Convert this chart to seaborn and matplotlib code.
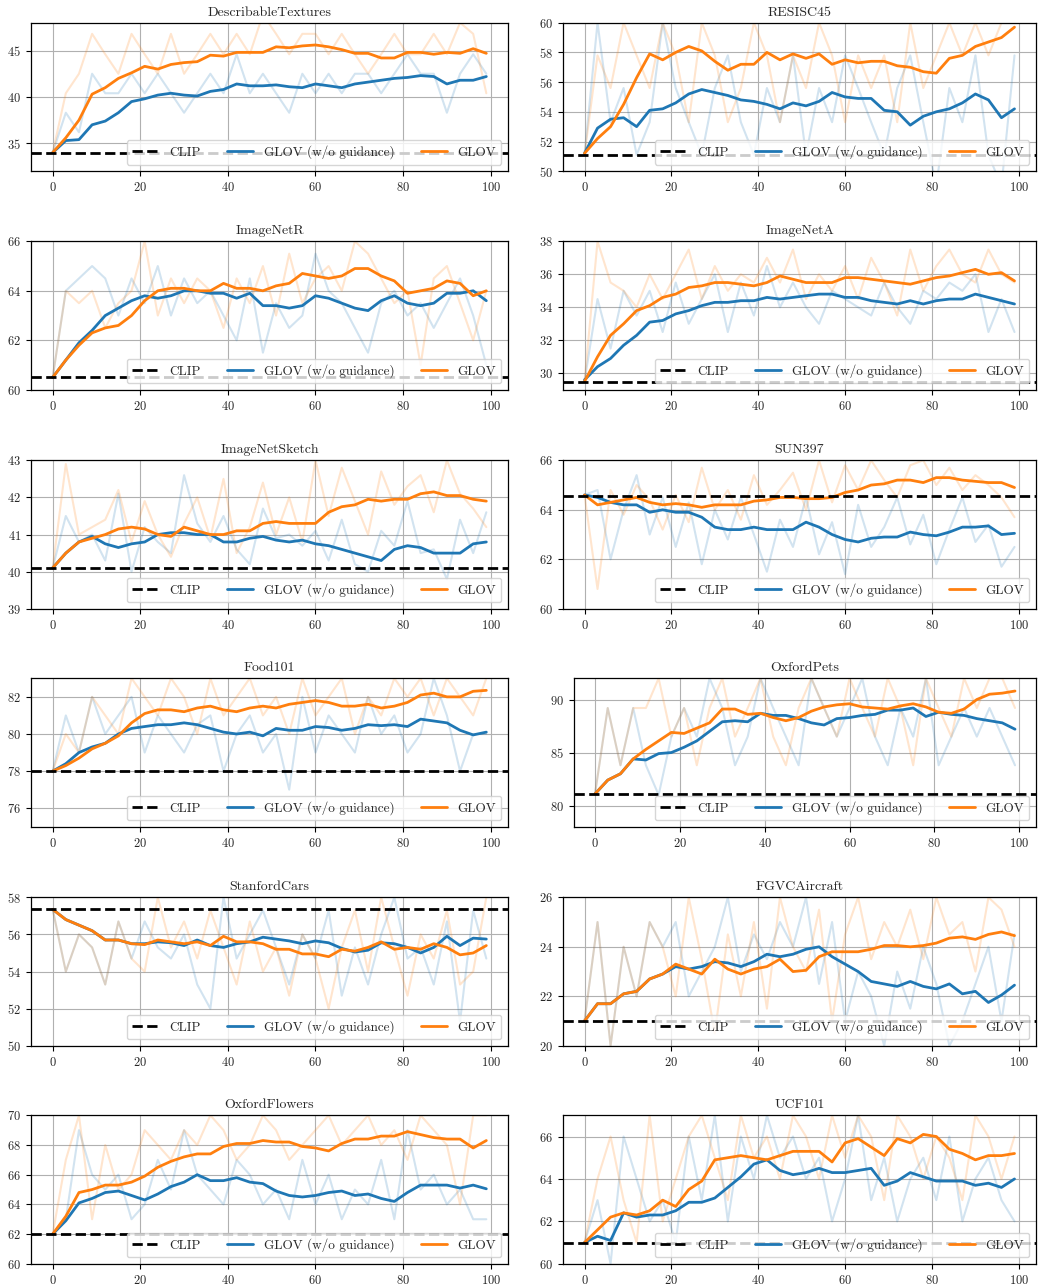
"""GLOV vs. GLOV (w/o guidance) vs. CLIP over optimisation steps, 12 datasets."""

import matplotlib.pyplot as plt
import numpy as np
import seaborn as sns
from matplotlib.lines import Line2D

# optimisation steps sampled every 3 iterations (0 .. 99)
steps = np.arange(0, 100, 3)

names = ["DescribableTextures", "RESISC45", "ImageNetR", "ImageNetA",
         "ImageNetSketch", "SUN397", "Food101", "OxfordPets",
         "StanfordCars", "FGVCAircraft", "OxfordFlowers", "UCF101"]

clip_acc = [34.0, 51.1, 60.5, 29.5, 40.1, 64.56, 78.0, 81.1, 57.35, 21.0, 62.0, 61.0]
ylims = [(32, 48), (50, 60), (60, 66), (29, 38), (39, 43), (60, 66),
         (75, 83), (78, 92), (50, 58), (20, 26), (60, 70), (60, 67)]

# smoothed curves
dtd_base = [34.0, 35.3, 35.4, 37.0, 37.4, 38.3, 39.5, 39.8, 40.2, 40.4, 40.2, 40.1, 40.6, 40.8, 41.4, 41.2, 41.2,
            41.3, 41.1, 41.0, 41.4, 41.2, 41.0, 41.4, 41.6, 41.8, 42.0, 42.1, 42.3, 42.2, 41.4, 41.8, 41.8, 42.2]
dtd_glov = [34.0, 35.6, 37.5, 40.3, 41.0, 42.0, 42.6, 43.3, 43.0, 43.5, 43.7, 43.8, 44.5, 44.4, 44.8, 44.8, 44.8,
            45.4, 45.3, 45.5, 45.6, 45.4, 45.1, 44.7, 44.7, 44.2, 44.2, 44.8, 44.8, 44.6, 44.8, 44.7, 45.2, 44.7]
res_base = [51.2, 52.9, 53.5, 53.6, 53.0, 54.1, 54.2, 54.6, 55.2, 55.5, 55.3, 55.1, 54.8, 54.7, 54.5, 54.2, 54.6,
            54.4, 54.7, 55.3, 55.0, 54.9, 54.9, 54.1, 54.0, 53.1, 53.7, 54.0, 54.2, 54.6, 55.2, 54.8, 53.6, 54.2]
res_glov = [51.2, 52.2, 53.0, 54.5, 56.3, 57.9, 57.5, 58.0, 58.4, 58.1, 57.4, 56.8, 57.2, 57.2, 58.0, 57.5, 57.9,
            57.6, 57.9, 57.2, 57.5, 57.3, 57.4, 57.4, 57.1, 57.0, 56.7, 56.6, 57.6, 57.8, 58.4, 58.7, 59.0, 59.7]
inr_base = [60.5, 61.2, 61.9, 62.4, 63.0, 63.3, 63.6, 63.8, 63.7, 63.8, 64.0, 64.0, 63.9, 63.9, 63.7, 63.9, 63.4,
            63.4, 63.3, 63.4, 63.8, 63.7, 63.5, 63.3, 63.2, 63.6, 63.8, 63.5, 63.4, 63.5, 63.9, 63.9, 64.0, 63.6]
inr_glov = [60.5, 61.2, 61.8, 62.3, 62.5, 62.6, 63.0, 63.6, 64.0, 64.1, 64.1, 64.0, 64.0, 64.3, 64.1, 64.1, 64.0,
            64.2, 64.3, 64.7, 64.6, 64.5, 64.6, 64.9, 64.9, 64.6, 64.4, 63.9, 64.0, 64.1, 64.4, 64.3, 63.8, 64.0]
ina_base = [29.6, 30.4, 30.9, 31.7, 32.3, 33.1, 33.2, 33.6, 33.8, 34.1, 34.3, 34.3, 34.4, 34.4, 34.6, 34.5, 34.6,
            34.7, 34.8, 34.8, 34.6, 34.6, 34.4, 34.3, 34.2, 34.4, 34.2, 34.4, 34.5, 34.5, 34.8, 34.6, 34.4, 34.2]
ina_glov = [29.5, 31.0, 32.3, 33.0, 33.8, 34.1, 34.6, 34.8, 35.2, 35.3, 35.5, 35.5, 35.4, 35.3, 35.5, 35.9, 35.7,
            35.5, 35.5, 35.5, 35.8, 35.8, 35.7, 35.6, 35.5, 35.4, 35.6, 35.8, 35.9, 36.1, 36.3, 36.0, 36.1, 35.6]
sk_base = [40.1, 40.5, 40.8, 40.95, 40.75, 40.65, 40.75, 40.8, 41.0, 41.05, 41.05, 41.0, 41.0, 40.8, 40.8, 40.9,
           40.95, 40.85, 40.8, 40.85, 40.75, 40.7, 40.6, 40.5, 40.4, 40.3, 40.6, 40.7, 40.65, 40.5, 40.5, 40.5,
           40.75, 40.8]
sk_glov = [40.1, 40.5, 40.8, 40.9, 41.0, 41.15, 41.2, 41.15, 41.0, 40.95, 41.2, 41.1, 41.0, 41.0, 41.1, 41.1, 41.3,
           41.35, 41.3, 41.3, 41.3, 41.6, 41.75, 41.8, 41.95, 41.9, 41.95, 41.95, 42.1, 42.15, 42.05, 42.05, 41.95,
           41.9]
sun_base = [64.6, 64.5, 64.3, 64.2, 64.2, 63.9, 64.0, 63.9, 63.9, 63.7, 63.3, 63.2, 63.2, 63.3, 63.2, 63.2, 63.2,
            63.5, 63.3, 63.0, 62.8, 62.7, 62.85, 62.9, 62.9, 63.1, 63.0, 62.95, 63.1, 63.3, 63.3, 63.35, 63.0, 63.05]
sun_glov = [64.6, 64.2, 64.3, 64.4, 64.5, 64.3, 64.2, 64.25, 64.2, 64.1, 64.2, 64.2, 64.2, 64.35, 64.4, 64.5, 64.5,
            64.45, 64.45, 64.5, 64.7, 64.8, 65.0, 65.05, 65.2, 65.2, 65.1, 65.3, 65.3, 65.2, 65.15, 65.1, 65.1, 64.9]
food_base = [78.0, 78.4, 79.0, 79.3, 79.5, 80.0, 80.3, 80.4, 80.5, 80.5, 80.6, 80.5, 80.3, 80.1, 80.0, 80.1, 79.9,
             80.3, 80.2, 80.2, 80.4, 80.35, 80.2, 80.3, 80.5, 80.45, 80.5, 80.4, 80.8, 80.7, 80.6, 80.2, 79.95, 80.1]
food_glov = [78.0, 78.3, 78.7, 79.2, 79.5, 79.9, 80.6, 81.1, 81.3, 81.3, 81.2, 81.4, 81.5, 81.3, 81.2, 81.4, 81.5,
             81.4, 81.6, 81.7, 81.8, 81.7, 81.5, 81.5, 81.6, 81.4, 81.5, 81.7, 82.1, 82.2, 82.0, 82.0, 82.3, 82.35]
pets_base = [81.1, 82.4, 83.0, 84.4, 84.3, 84.9, 85.0, 85.5, 86.1, 87.0, 87.9, 88.0, 87.9, 88.7, 88.5, 88.5, 88.2,
             87.8, 87.6, 88.2, 88.3, 88.5, 88.6, 89.0, 89.0, 89.2, 88.4, 88.8, 88.6, 88.5, 88.2, 88.0, 87.8, 87.2]
pets_glov = [81.1, 82.4, 83.0, 84.4, 85.3, 86.1, 86.9, 86.8, 87.3, 87.8, 89.1, 89.1, 88.6, 88.7, 88.3, 88.0, 88.3,
             88.9, 89.3, 89.5, 89.6, 89.3, 89.2, 89.1, 89.4, 89.6, 89.3, 88.8, 88.7, 89.1, 90.0, 90.5, 90.6, 90.8]
cars_base = [57.35, 56.8, 56.5, 56.2, 55.7, 55.7, 55.5, 55.5, 55.6, 55.55, 55.4, 55.7, 55.4, 55.3, 55.5, 55.6,
             55.85, 55.75, 55.65, 55.5, 55.65, 55.55, 55.25, 55.05, 55.15, 55.55, 55.5, 55.3, 55.0, 55.3, 55.9,
             55.4, 55.8, 55.75]
cars_glov = [57.35, 56.8, 56.5, 56.2, 55.7, 55.7, 55.5, 55.45, 55.7, 55.6, 55.5, 55.6, 55.4, 55.9, 55.6, 55.6,
             55.5, 55.2, 55.2, 54.95, 54.95, 54.8, 55.2, 55.1, 55.3, 55.6, 55.2, 55.3, 55.2, 55.5, 55.3, 54.9,
             55.0, 55.4]
air_base = [21.0, 21.7, 21.7, 22.1, 22.2, 22.7, 22.9, 23.2, 23.1, 23.2, 23.4, 23.35, 23.2, 23.4, 23.7, 23.6, 23.7,
            23.9, 24.0, 23.6, 23.3, 23.0, 22.6, 22.5, 22.4, 22.6, 22.4, 22.3, 22.5, 22.1, 22.2, 21.75, 22.05, 22.45]
air_glov = [21.0, 21.7, 21.7, 22.1, 22.2, 22.7, 22.9, 23.3, 23.1, 22.9, 23.5, 23.1, 22.9, 23.1, 23.2, 23.5, 23.0,
            23.05, 23.6, 23.8, 23.8, 23.8, 23.9, 24.05, 24.05, 24.0, 24.05, 24.15, 24.35, 24.4, 24.3, 24.5, 24.6,
            24.45]
flo_base = [62.0, 62.9, 64.1, 64.4, 64.8, 64.9, 64.6, 64.3, 64.7, 65.2, 65.5, 66.0, 65.6, 65.6, 65.8, 65.5, 65.4,
            64.9, 64.6, 64.5, 64.6, 64.8, 64.9, 64.6, 64.7, 64.4, 64.2, 64.8, 65.3, 65.3, 65.3, 65.1, 65.3, 65.05]
flo_glov = [62.0, 63.2, 64.8, 65.0, 65.3, 65.3, 65.5, 65.9, 66.5, 66.9, 67.2, 67.4, 67.4, 67.9, 68.1, 68.1, 68.3,
            68.2, 68.2, 67.9, 67.8, 67.6, 68.1, 68.4, 68.4, 68.6, 68.6, 68.9, 68.7, 68.5, 68.4, 68.4, 67.8, 68.3]
ucf_base = [61.0, 61.3, 61.1, 62.4, 62.2, 62.3, 62.3, 62.5, 62.9, 62.9, 63.1, 63.6, 64.1, 64.7, 64.9, 64.4, 64.2,
            64.3, 64.5, 64.3, 64.3, 64.4, 64.5, 63.7, 63.9, 64.3, 64.1, 63.9, 63.9, 63.9, 63.7, 63.8, 63.6, 64.0]
ucf_glov = [61.0, 61.6, 62.2, 62.4, 62.3, 62.5, 63.0, 62.7, 63.5, 63.9, 64.9, 65.0, 65.1, 65.0, 64.9, 65.1, 65.3,
            65.3, 65.3, 64.8, 65.7, 65.9, 65.5, 65.1, 65.9, 65.7, 66.1, 66.0, 65.4, 65.2, 64.9, 65.1, 65.1, 65.2]

# raw (unsmoothed) accuracies
dtd_base_raw = [34.0, 38.3, 36.2, 42.5, 40.4, 40.4, 42.5, 40.4, 42.5, 40.4, 38.3, 40.4, 42.5, 40.4, 44.6, 40.4,
                42.5, 40.4, 38.3, 42.5, 40.4, 42.5, 40.4, 42.5, 42.5, 40.4, 42.5, 44.6, 42.5, 42.5, 38.3, 42.5,
                44.6, 42.5]
dtd_glov_raw = [34.0, 40.4, 42.5, 46.8, 44.6, 42.5, 46.8, 44.6, 42.5, 46.8, 42.5, 44.6, 46.8, 44.6, 46.8, 44.6,
                48.9, 46.8, 44.6, 46.8, 46.8, 44.6, 46.8, 44.6, 42.5, 44.6, 46.8, 44.6, 44.6, 46.8, 44.6, 48.0,
                46.8, 40.4]
res_base_raw = [51.1, 60.0, 53.3, 55.6, 51.1, 53.3, 60.0, 55.6, 53.3, 51.1, 55.6, 57.8, 53.3, 51.1, 55.6, 53.3,
                57.8, 51.1, 55.6, 53.3, 57.8, 55.6, 53.3, 51.1, 55.6, 57.8, 53.3, 49.0, 55.6, 53.3, 57.8, 51.1,
                49.0, 57.8]
res_glov_raw = [51.1, 57.8, 55.6, 60.0, 57.8, 55.6, 60.0, 57.8, 53.3, 60.0, 57.8, 53.3, 55.6, 60.0, 57.8, 53.3,
                57.8, 55.6, 60.0, 57.8, 53.3, 57.8, 55.6, 57.8, 53.3, 60.0, 55.6, 57.8, 60.0, 57.8, 60.0, 57.8,
                60.0, 60.0]
inr_base_raw = [60.5, 64.0, 64.5, 65.0, 64.5, 63.0, 64.5, 63.5, 65.0, 63.0, 64.5, 63.5, 64.0, 63.0, 62.0, 64.5,
                61.5, 63.5, 62.5, 63.0, 65.5, 64.0, 63.5, 62.5, 61.5, 63.5, 64.0, 63.0, 63.5, 62.5, 63.5, 64.5,
                63.0, 61.0]
inr_glov_raw = [60.5, 64.0, 63.5, 64.0, 62.5, 63.5, 64.0, 66.0, 63.0, 64.5, 63.5, 64.5, 64.0, 62.5, 64.5, 63.5,
                65.0, 63.0, 65.5, 63.5, 64.5, 65.0, 64.0, 66.0, 65.5, 64.5, 63.5, 64.0, 61.0, 64.5, 65.0, 63.5,
                62.0, 64.0]
ina_base_raw = [29.5, 34.5, 31.5, 35.0, 33.5, 35.0, 32.5, 35.5, 33.0, 34.5, 36.0, 32.5, 35.5, 33.5, 36.5, 34.0,
                35.5, 34.0, 33.0, 35.0, 34.5, 34.0, 33.5, 35.5, 34.0, 33.0, 35.0, 34.5, 35.5, 35.0, 36.0, 32.5,
                34.5, 32.5]
ina_glov_raw = [29.5, 38.0, 35.5, 35.0, 34.0, 36.0, 34.5, 36.0, 37.5, 34.5, 36.5, 35.0, 36.0, 35.5, 37.0, 35.5,
                37.5, 34.5, 36.0, 35.0, 36.5, 34.5, 37.0, 35.5, 33.5, 37.5, 35.0, 36.5, 37.5, 36.0, 35.5, 37.5,
                36.0, 35.5]
sk_base_raw = [40.1, 41.5, 40.8, 41.0, 40.3, 42.1, 40.0, 41.2, 40.8, 40.5, 42.6, 41.3, 40.8, 41.5, 40.6, 40.2,
               41.7, 40.9, 41.0, 40.7, 41.1, 40.3, 41.4, 40.2, 40.0, 41.1, 40.7, 41.9, 40.5, 40.6, 39.8, 41.4,
               40.5, 41.6]
sk_glov_raw = [40.1, 42.9, 41.0, 41.2, 41.4, 42.2, 40.8, 41.9, 41.0, 40.4, 41.3, 42.0, 40.9, 42.5, 40.5, 41.2,
               42.4, 41.0, 42.0, 40.8, 43.0, 41.5, 42.8, 41.9, 41.0, 42.7, 41.8, 42.3, 42.6, 41.6, 43.0, 42.1,
               41.7, 41.2]
sun_base_raw = [64.6, 64.8, 62.0, 64.0, 65.4, 63.0, 64.5, 62.5, 64.3, 61.8, 64.0, 62.8, 64.5, 63.0, 61.5, 63.6,
                62.5, 64.5, 62.2, 63.5, 61.4, 64.2, 62.5, 63.3, 64.5, 62.6, 63.8, 61.8, 63.2, 64.5, 62.7, 63.4,
                61.7, 62.5]
sun_glov_raw = [64.6, 60.8, 64.8, 63.8, 65.0, 64.4, 63.2, 64.6, 63.5, 65.7, 64.0, 64.8, 63.6, 65.4, 64.2, 64.8,
                65.5, 64.0, 66.0, 64.3, 65.8, 64.8, 66.0, 65.2, 64.5, 65.8, 66.0, 65.0, 65.7, 64.8, 65.4, 65.0,
                64.5, 63.7]
food_base_raw = [78.0, 81.0, 79.0, 82.0, 80.0, 81.0, 82.0, 79.0, 81.0, 80.0, 79.0, 80.5, 81.0, 78.0, 80.0, 81.0,
                 79.0, 80.0, 77.0, 82.0, 79.0, 81.0, 80.0, 79.0, 82.0, 80.0, 81.0, 79.0, 80.0, 83.0, 81.0, 78.0,
                 80.0, 80.0]
food_glov_raw = [78.0, 80.0, 79.0, 82.0, 81.0, 80.0, 83.0, 82.0, 81.0, 83.0, 82.0, 80.0, 83.0, 81.0, 82.0, 83.0,
                 81.0, 82.0, 80.0, 83.0, 81.0, 82.0, 83.0, 80.0, 82.0, 81.0, 83.0, 82.0, 83.0, 81.0, 83.0, 82.0,
                 81.0, 83.0]
pets_base_raw = [81.1, 89.2, 83.8, 89.2, 83.8, 81.0, 86.5, 89.2, 86.5, 92.0, 89.2, 83.8, 86.5, 92.0, 89.2, 86.5,
                 83.8, 92.0, 89.2, 86.5, 89.2, 92.0, 86.5, 83.8, 89.2, 86.5, 92.0, 83.8, 86.5, 89.2, 86.5, 89.2,
                 86.5, 83.8]
pets_glov_raw = [81.1, 89.2, 83.8, 89.2, 89.2, 92.0, 86.5, 89.2, 83.8, 89.2, 92.0, 86.5, 89.2, 92.0, 86.5, 83.8,
                 89.2, 92.0, 89.2, 86.5, 92.0, 89.2, 86.5, 92.0, 89.2, 83.8, 92.0, 89.2, 86.5, 92.0, 89.2, 92.0,
                 92.0, 89.2]
cars_base_raw = [57.35, 54.0, 56.0, 55.3, 53.3, 56.7, 54.7, 56.7, 55.3, 54.7, 56.0, 53.3, 52.0, 58.0, 54.7, 56.0,
                 57.3, 55.3, 53.3, 56.0, 54.7, 57.3, 52.7, 55.3, 53.3, 56.0, 58.0, 54.7, 55.3, 53.3, 56.7, 51.3,
                 57.3, 54.7]
cars_glov_raw = [57.35, 54.0, 56.0, 55.3, 53.3, 56.7, 54.7, 54.0, 58.0, 55.3, 56.7, 54.7, 57.3, 55.3, 53.3, 56.7,
                 54.0, 55.3, 52.7, 56.0, 54.7, 52.0, 55.3, 57.3, 54.0, 58.0, 55.3, 52.7, 56.0, 54.7, 57.3, 53.3,
                 54.0, 58.0]
air_base_raw = [21.0, 25.0, 20.0, 24.0, 22.0, 25.0, 24.0, 25.0, 22.0, 23.0, 24.0, 26.0, 23.0, 24.5, 23.5, 25.0,
                24.0, 26.0, 22.5, 25.0, 21.0, 23.0, 22.0, 20.0, 23.0, 21.5, 24.0, 22.5, 20.0, 21.0, 22.5, 24.0,
                21.0, 24.5]
air_glov_raw = [21.0, 25.0, 20.0, 24.0, 22.0, 25.0, 24.0, 22.0, 26.0, 23.5, 20.5, 24.5, 22.0, 25.0, 21.5, 26.0,
                24.0, 23.0, 25.5, 21.0, 24.5, 26.0, 23.5, 25.0, 24.0, 25.5, 23.5, 26.0, 24.5, 25.0, 23.0, 26.0,
                25.5, 24.0]
flo_base_raw = [62.0, 63.0, 69.0, 66.0, 65.0, 66.0, 63.0, 64.0, 67.0, 65.0, 69.0, 66.0, 65.0, 64.0, 67.0, 66.0,
                64.0, 65.0, 63.0, 67.0, 64.0, 66.0, 63.0, 65.0, 64.0, 67.0, 63.0, 69.0, 65.0, 66.0, 64.0, 65.0,
                63.0, 63.0]
flo_glov_raw = [62.0, 67.0, 70.0, 63.0, 68.0, 65.0, 66.0, 69.0, 68.0, 67.0, 69.0, 68.0, 70.0, 69.0, 67.0, 68.0,
                70.0, 69.0, 67.0, 68.0, 69.0, 70.0, 68.0, 69.0, 70.0, 68.0, 69.0, 67.0, 70.0, 69.0, 68.0, 64.0,
                70.0, 70.0]
ucf_base_raw = [61.0, 63.0, 60.0, 66.0, 64.0, 62.0, 63.0, 61.0, 66.0, 63.0, 67.0, 62.0, 66.0, 64.0, 67.0, 65.0,
                66.0, 64.0, 65.0, 62.0, 64.0, 67.0, 63.0, 65.0, 62.0, 64.0, 65.0, 63.0, 66.0, 62.0, 64.0, 65.0,
                63.0, 62.0]
ucf_glov_raw = [61.0, 64.0, 66.0, 63.0, 61.0, 67.0, 62.0, 64.0, 66.0, 67.0, 65.0, 63.0, 67.0, 65.0, 66.0, 64.0,
                67.0, 66.0, 64.0, 67.0, 65.0, 67.0, 66.0, 63.0, 67.0, 66.0, 64.0, 66.0, 65.0, 63.0, 67.0, 66.0,
                64.0, 66.0]

base_curves = [dtd_base, res_base, inr_base, ina_base, sk_base, sun_base,
               food_base, pets_base, cars_base, air_base, flo_base, ucf_base]
glov_curves = [dtd_glov, res_glov, inr_glov, ina_glov, sk_glov, sun_glov,
               food_glov, pets_glov, cars_glov, air_glov, flo_glov, ucf_glov]
base_raws = [dtd_base_raw, res_base_raw, inr_base_raw, ina_base_raw, sk_base_raw, sun_base_raw,
             food_base_raw, pets_base_raw, cars_base_raw, air_base_raw, flo_base_raw, ucf_base_raw]
glov_raws = [dtd_glov_raw, res_glov_raw, inr_glov_raw, ina_glov_raw, sk_glov_raw, sun_glov_raw,
             food_glov_raw, pets_glov_raw, cars_glov_raw, air_glov_raw, flo_glov_raw, ucf_glov_raw]

for i, arrs in enumerate(zip(base_curves, glov_curves, base_raws, glov_raws)):
    for a in arrs:
        assert len(a) == len(steps), (names[i], len(a))

BLUE, ORANGE = "#1f77b4", "#ff7f0e"

sns.set_style("ticks")
plt.rcParams["font.family"] = "cmr10"
plt.rcParams["mathtext.fontset"] = "cm"
plt.rcParams["axes.formatter.use_mathtext"] = True

W, H = 1038, 1287
fig = plt.figure(figsize=(W / 100, H / 100), dpi=100)

row_tops = [22.7, 241.3, 460.3, 678.3, 897.3, 1115.3]
ax_h = 148.5

for i, name in enumerate(names):
    row, col = divmod(i, 2)
    if col == 0:
        x0, x1 = 31, 508
    else:
        x0, x1 = (574, 1036) if name == "OxfordPets" else (563, 1036)
    top = row_tops[row]
    ax = fig.add_axes([x0 / W, 1 - (top + ax_h) / H, (x1 - x0) / W, ax_h / H])

    sns.lineplot(x=steps, y=base_raws[i], ax=ax, color=BLUE, lw=1.5, alpha=0.2)
    sns.lineplot(x=steps, y=glov_raws[i], ax=ax, color=ORANGE, lw=1.5, alpha=0.2)
    sns.lineplot(x=steps, y=base_curves[i], ax=ax, color=BLUE, lw=2.0)
    sns.lineplot(x=steps, y=glov_curves[i], ax=ax, color=ORANGE, lw=2.0)
    ax.axhline(clip_acc[i], color="black", ls="--", lw=2)

    ax.set_ylim(*ylims[i])
    ax.set_xticks([0, 20, 40, 60, 80, 100])
    ax.grid(True, color="#b0b0b0", lw=0.8)
    ax.set_axisbelow(True)
    for sp in ax.spines.values():
        sp.set_color("black")
        sp.set_linewidth(0.9)
    ax.tick_params(labelsize=9, length=3.5, width=0.8, color="black")
    ax.set_title(name, fontsize=10, pad=5)
    ax.set_xlabel("")
    ax.set_ylabel("")

    handles = [Line2D([], [], color="black", ls="--", lw=2),
               Line2D([], [], color=BLUE, lw=2.0),
               Line2D([], [], color=ORANGE, lw=2.0)]
    ax.legend(handles, ["CLIP", "GLOV (w/o guidance)", "GLOV"],
              loc="lower right", ncol=3, fontsize=9.5)

fig.savefig("out.png", dpi=100)
